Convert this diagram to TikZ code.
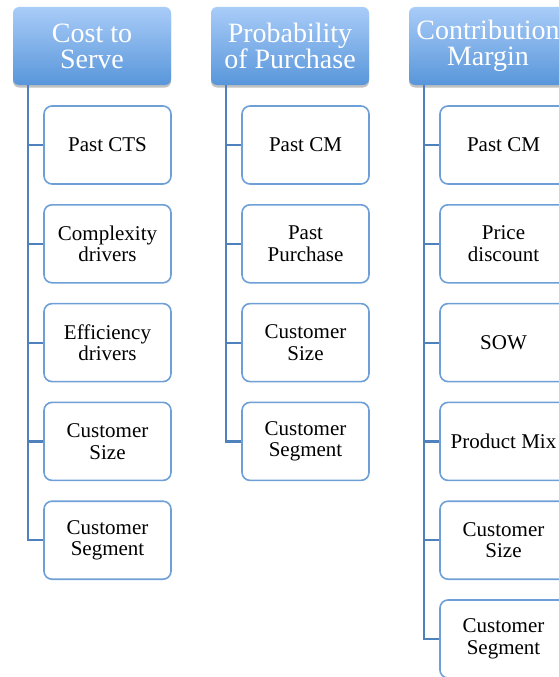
\documentclass[tikz,border=0pt]{standalone}
\usepackage{fontspec}
\setmainfont{Liberation Serif}
\usetikzlibrary{shadows}
\definecolor{trunkblue}{HTML}{4F81BD}
\definecolor{edgeblue}{HTML}{6E9FD6}
\definecolor{headtop}{HTML}{A9CCF8}
\definecolor{headbot}{HTML}{5896DA}
\tikzset{
  header/.style={rounded corners=6pt, minimum width=158pt, minimum height=78pt,
    top color=headtop, bottom color=headbot, draw=none, text=white,
    align=center, inner sep=0pt,
    font=\fontsize{28}{26}\selectfont,
    drop shadow={shadow xshift=0pt, shadow yshift=-2.5pt, opacity=0.35, fill=black!70}},
  item/.style={rounded corners=8pt, minimum width=127pt, minimum height=78pt,
    draw=edgeblue, line width=1.6pt, fill=white, align=center, inner sep=0pt,
    font=\fontsize{21}{21.5}\selectfont},
  trunk/.style={draw=trunkblue, line width=2.2pt}
}
\begin{document}
\begin{tikzpicture}[x=1pt,y=-1pt]
\useasboundingbox (0,0) rectangle (559,677);

% column headers
\node[header] (h1) at (92,46)  {Cost to\\Serve};
\node[header] (h2) at (290,46) {Probability\\of Purchase};
\node[header] (h3) at (488,46) {Contribution\\Margin};

% items under "Cost to Serve"
\node[item] (a1) at (107.5,145)   {Past CTS};
\node[item] (a2) at (107.5,243.8) {Complexity\\drivers};
\node[item] (a3) at (107.5,342.6) {Efficiency\\drivers};
\node[item] (a4) at (107.5,441.4) {Customer\\Size};
\node[item] (a5) at (107.5,540.2) {Customer\\Segment};

% items under "Probability of Purchase"
\node[item] (b1) at (305.5,145)   {Past CM};
\node[item] (b2) at (305.5,243.8) {Past\\Purchase};
\node[item] (b3) at (305.5,342.6) {Customer\\Size};
\node[item] (b4) at (305.5,441.4) {Customer\\Segment};

% items under "Contribution Margin"
\node[item] (c1) at (503.5,145)   {Past CM};
\node[item] (c2) at (503.5,243.8) {Price\\discount};
\node[item] (c3) at (503.5,342.6) {SOW};
\node[item] (c4) at (503.5,441.4) {Product Mix};
\node[item] (c5) at (503.5,540.2) {Customer\\Size};
\node[item] (c6) at (503.5,639)   {Customer\\Segment};

% connectors: trunk down the left side of each header, branch to each item
\foreach \h/\list in {h1/{a1,a2,a3,a4,a5}, h2/{b1,b2,b3,b4}, h3/{c1,c2,c3,c4,c5,c6}}{
  \foreach \c in \list{
    \draw[trunk] ([xshift=15pt]\h.south west) |- (\c.west);
  }
}
\end{tikzpicture}
\end{document}
